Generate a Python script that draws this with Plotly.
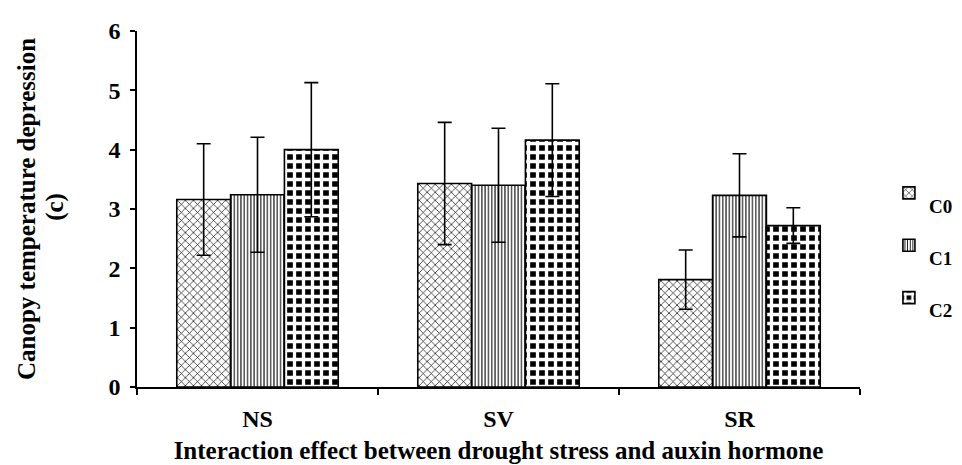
import plotly.graph_objects as go

categories = ["NS", "SV", "SR"]
series_names = ["C0", "C1", "C2"]
c0_values = [3.16, 3.43, 1.81]
c1_values = [3.24, 3.40, 3.23]
c2_values = [4.00, 4.16, 2.72]
c0_errors = [0.94, 1.03, 0.50]
c1_errors = [0.97, 0.96, 0.70]
c2_errors = [1.13, 0.95, 0.30]
y_ticks = [0, 1, 2, 3, 4, 5, 6]

FONT = "Liberation Serif"

patterns = [
    dict(shape="x", size=5.7, solidity=0.22, fgcolor="black", bgcolor="white", fillmode="replace"),
    dict(shape="|", size=3.3, solidity=0.32, fgcolor="black", bgcolor="white", fillmode="replace"),
    dict(shape="+", size=9, solidity=0.6, fgcolor="white", bgcolor="black", fillmode="replace"),
]

fig = go.Figure()
for name, vals, errs, pat in zip(series_names,
                                 [c0_values, c1_values, c2_values],
                                 [c0_errors, c1_errors, c2_errors],
                                 patterns):
    fig.add_trace(go.Bar(
        x=categories, y=vals, name=" <br>" + name,
        legendgroup=name,
        marker=dict(color="white", pattern=pat, line=dict(color="black", width=1.6)),
        error_y=dict(type="data", array=errs, visible=True, color="black",
                     thickness=1.6, width=7),
    ))

fig.update_layout(
    width=962, height=465,
    margin=dict(l=129, r=87, t=23, b=86),
    paper_bgcolor="white", plot_bgcolor="white",
    barmode="group", bargap=0.33, bargroupgap=0,
    font=dict(family=FONT, color="black", size=20),
    showlegend=True,
    legend=dict(x=1.04, y=0.633, xanchor="left", yanchor="top",
                font=dict(family=FONT, size=19, color="black", weight="bold"),
                valign="middle", tracegroupgap=0, itemwidth=30,
                bgcolor="rgba(0,0,0,0)"),
    annotations=[dict(
        text="(c)", xref="paper", yref="paper", x=-0.1126, y=0.505,
        xanchor="center", yanchor="middle", textangle=-90, showarrow=False,
        font=dict(family=FONT, size=25, color="black", weight="bold"),
    )],
)
fig.update_xaxes(
    showline=True, linecolor="black", linewidth=1.6,
    ticks="outside", tickson="boundaries", ticklen=6, tickcolor="black", tickwidth=1.6,
    tickfont=dict(family=FONT, size=24, color="black", weight="bold"),
    ticklabelstandoff=9,
    showgrid=False, zeroline=False, automargin=False,
    title=dict(text="Interaction effect between drought stress and auxin hormone",
               font=dict(family=FONT, size=25, color="black", weight="bold"), standoff=11),
)
fig.update_yaxes(
    range=[0, 6], tickvals=y_ticks,
    showline=True, linecolor="black", linewidth=1.6,
    ticks="outside", ticklen=5, tickcolor="black", tickwidth=1.6,
    tickfont=dict(family=FONT, size=24, color="black", weight="bold"),
    ticklabelstandoff=5,
    showgrid=False, zeroline=False, automargin=False,
    title=dict(text="Canopy temperature depression",
               font=dict(family=FONT, size=25, color="black", weight="bold"), standoff=66),
)

fig.write_html("out.html")
